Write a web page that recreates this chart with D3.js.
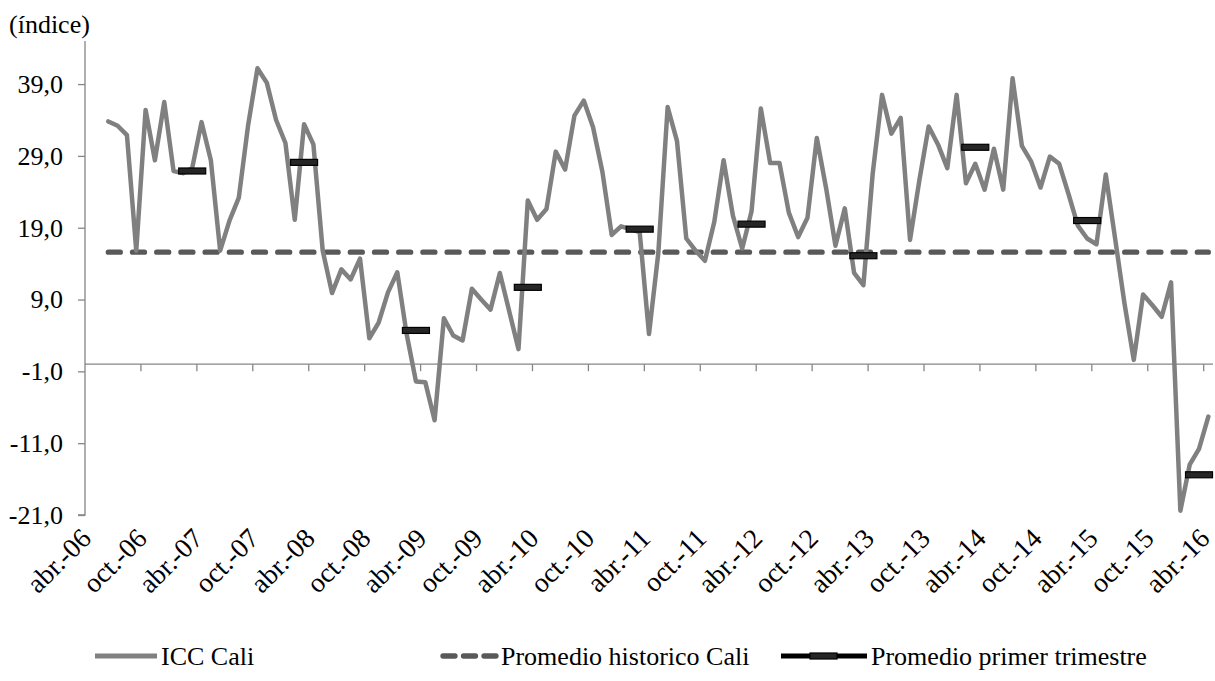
<!DOCTYPE html>
<html lang="es">
<head>
<meta charset="UTF-8">
<title>ICC Cali</title>
<style>
body { margin: 0; background: #fff; }
svg { display: block; }
svg text { font-family: "Liberation Serif", "Times New Roman", Times, serif; font-size: 26px; fill: #000; }
.axis path, .axis line { stroke: #868686; stroke-width: 1.3px; fill: none; }
.etiqueta-x { font-size: 27.5px; }
</style>
</head>
<body>
<div id="chart"></div>
<script src="https://cdn.jsdelivr.net/npm/d3@7"></script>
<script>
var meses = ["ene.", "feb.", "mar.", "abr.", "may.", "jun.", "jul.", "ago.", "sep.", "oct.", "nov.", "dic."];

// categorias mensuales abr.-06 ... abr.-16
var categorias = [];
for (var a = 2006; a <= 2016; a++) {
    for (var m = 0; m < 12; m++) {
        if ((a == 2006 && m < 3) || (a == 2016 && m > 3)) continue;
        categorias.push(meses[m] + "-" + String(a).slice(2));
    }
}

// ICC Cali (indice), un valor por mes
var icc = [null, null, 33.8, 33.2, 31.9, 15.8, 35.4, 28.4, 36.5, 26.9, 26.6, 27.3,
    33.7, 28.4, 15.8, 20.0, 23.2, 33.3, 41.2, 39.2, 34.0, 30.8, 20.1, 33.4,
    30.6, 15.8, 9.9, 13.2, 11.8, 14.7, 3.6, 5.8, 10.0, 12.8, 4.2, -2.4,
    -2.5, -7.8, 6.4, 4.0, 3.3, 10.5, 9.0, 7.6, 12.7, 7.4, 2.1, 22.8,
    20.1, 21.6, 29.6, 27.1, 34.6, 36.7, 33.0, 26.8, 18.0, 19.2, 18.8, 18.4,
    4.2, 15.5, 35.8, 31.1, 17.5, 15.8, 14.4, 19.8, 28.4, 20.7, 16.1, 21.3,
    35.6, 28.0, 28.0, 21.1, 17.7, 20.4, 31.5, 24.5, 16.5, 21.7, 12.7, 11.0,
    26.6, 37.5, 32.1, 34.3, 17.3, 25.6, 33.1, 30.6, 27.3, 37.5, 25.2, 27.9,
    24.3, 30.0, 24.3, 39.8, 30.4, 28.2, 24.6, 28.9, 27.9, 23.7, 19.3, 17.5,
    16.7, 26.4, 17.5, 8.5, 0.6, 9.7, 8.2, 6.6, 11.4, -20.4, -14.0, -11.8,
    -7.3];

var promedioHistorico = 15.6;

var trimestreMes = ["mar.-07", "mar.-08", "mar.-09", "mar.-10", "mar.-11", "mar.-12", "mar.-13", "mar.-14", "mar.-15", "mar.-16"];
var trimestreValor = [26.9, 28.1, 4.7, 10.7, 18.8, 19.5, 15.1, 30.2, 20.0, -15.4];

var yTicks = [-21, -11, -1, 9, 19, 29, 39];

var width = 1215, height = 681;
var svg = d3.select("#chart").append("svg")
    .attr("width", width)
    .attr("height", height);

var x = d3.scaleBand()
    .domain(categorias)
    .range([85, 1213])
    .paddingInner(0).paddingOuter(0);
var bw = x.bandwidth();
function cx(c) { return x(c) + bw / 2; }

var y = d3.scaleLinear()
    .domain([-21, 45])
    .range([515, 41]);

function fmt(d) { return d.toFixed(1).replace(".", ","); }

// eje y
svg.append("g")
    .attr("class", "axis")
    .attr("transform", "translate(85,0)")
    .call(d3.axisLeft(y).tickValues(yTicks).tickFormat(fmt).tickSize(7).tickPadding(15).tickSizeOuter(0))
    .call(function(g) { g.select(".domain").attr("d", "M0," + y(45) + "V" + y(-21) + "H-7"); })
    .attr("font-family", null).attr("font-size", null);

// eje x en cero
var ejeX = svg.append("g").attr("class", "axis");
ejeX.append("line")
    .attr("x1", 85).attr("x2", 1213)
    .attr("y1", y(0)).attr("y2", y(0));
var marcas = categorias.filter(function(c, i) { return i > 0 && i % 6 == 0; });
ejeX.selectAll(".tick-x")
    .data(marcas)
    .enter().append("line")
    .attr("class", "tick-x")
    .attr("x1", function(d) { return x(d); })
    .attr("x2", function(d) { return x(d); })
    .attr("y1", y(0))
    .attr("y2", y(0) + 7);

// etiquetas x
var etiquetas = categorias.filter(function(c, i) { return i % 6 == 0; });
svg.append("g")
    .selectAll("text")
    .data(etiquetas)
    .enter().append("text")
    .attr("class", "etiqueta-x")
    .attr("text-anchor", "end")
    .attr("transform", function(d) { return "translate(" + (cx(d) + 3) + ",540) rotate(-45)"; })
    .text(function(d) { return d; });

// titulo eje
svg.append("text")
    .attr("x", 9)
    .attr("y", 33)
    .text("(índice)");

// promedio historico
var primera = categorias[2], ultima = categorias[categorias.length - 1];
svg.append("line")
    .attr("x1", cx(primera)).attr("x2", cx(ultima))
    .attr("y1", y(promedioHistorico)).attr("y2", y(promedioHistorico))
    .style("stroke", "#595959")
    .style("stroke-width", 5.3)
    .style("stroke-linecap", "round")
    .style("stroke-dasharray", "12,12.2");

// ICC Cali
var linea = d3.line()
    .defined(function(d) { return d != null; })
    .x(function(d, i) { return cx(categorias[i]); })
    .y(function(d) { return y(d); });

svg.append("path")
    .datum(icc)
    .attr("d", linea)
    .style("fill", "none")
    .style("stroke", "#808080")
    .style("stroke-width", 4.5)
    .style("stroke-linejoin", "round")
    .style("stroke-linecap", "round");

// promedio primer trimestre
svg.selectAll(".trimestre")
    .data(trimestreValor)
    .enter().append("rect")
    .attr("class", "trimestre")
    .attr("x", function(d, i) { return cx(trimestreMes[i]) - 13.5; })
    .attr("y", function(d) { return y(d) - 3; })
    .attr("width", 27)
    .attr("height", 6)
    .style("fill", "#262626")
    .style("stroke", "#000")
    .style("stroke-width", 1.2);

// leyenda
var ly = 656;
var leyenda = svg.append("g");
leyenda.append("line")
    .attr("x1", 95).attr("x2", 157).attr("y1", ly).attr("y2", ly)
    .style("stroke", "#808080").style("stroke-width", 5);
leyenda.append("text")
    .attr("x", 161).attr("y", ly + 9).text("ICC Cali");

leyenda.append("line")
    .attr("x1", 443).attr("x2", 496).attr("y1", ly).attr("y2", ly)
    .style("stroke", "#595959").style("stroke-width", 5.3)
    .style("stroke-linecap", "round").style("stroke-dasharray", "12,8.5");
leyenda.append("text")
    .attr("x", 501).attr("y", ly + 9).text("Promedio historico Cali");

leyenda.append("line")
    .attr("x1", 781).attr("x2", 867).attr("y1", ly).attr("y2", ly)
    .style("stroke", "#000").style("stroke-width", 5);
leyenda.append("rect")
    .attr("x", 810).attr("y", ly - 3).attr("width", 27).attr("height", 6)
    .style("fill", "#262626").style("stroke", "#000").style("stroke-width", 1.2);
leyenda.append("text")
    .attr("x", 871).attr("y", ly + 9).text("Promedio primer trimestre");
</script>
</body>
</html>
